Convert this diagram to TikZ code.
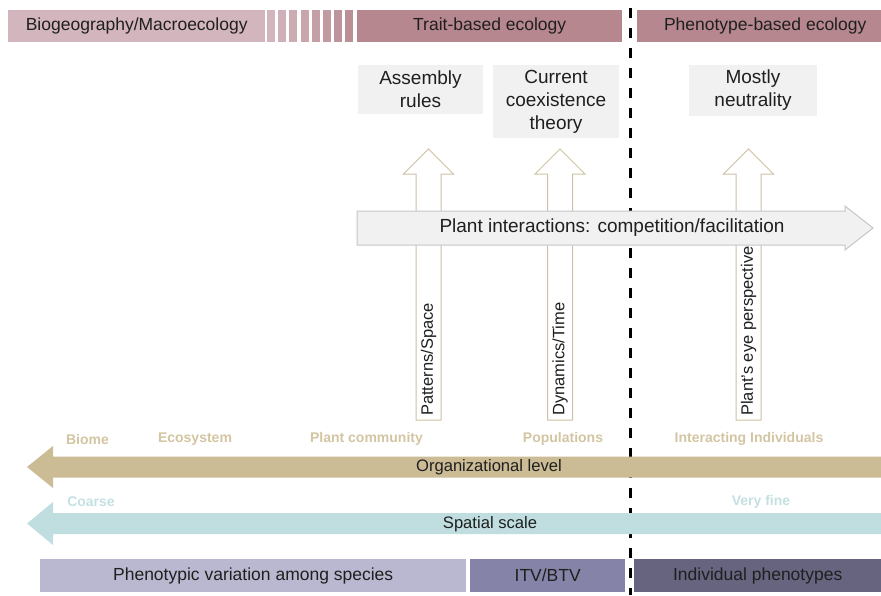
\documentclass[tikz,border=0pt]{standalone}
\usepackage{fontspec}
\setmainfont{Liberation Sans}

\definecolor{bioC}{HTML}{D3B6BD}
\definecolor{traitC}{HTML}{B6878F}
\definecolor{boxC}{HTML}{F1F1F1}
\definecolor{boxLine}{HTML}{C6C6C6}
\definecolor{upC}{HTML}{CFC2A2}
\definecolor{tanC}{HTML}{CBBC96}
\definecolor{tanL}{HTML}{D3C5A2}
\definecolor{tealC}{HTML}{C0DEDF}
\definecolor{tealL}{HTML}{C4E0E2}
\definecolor{phA}{HTML}{B9B8D0}
\definecolor{phB}{HTML}{8584A8}
\definecolor{phC}{HTML}{66647F}

\begin{document}
\begin{tikzpicture}[x=1pt,y=-1pt,
    every node/.style={font=\fontsize{17.5}{22.5}\selectfont, text=black!88},
    hdr/.style={minimum height=32, inner sep=0, anchor=west},
    gbox/.style={fill=boxC, align=center, inner sep=0, font=\fontsize{19}{23}\selectfont},
    rot/.style={rotate=90, anchor=west, inner sep=0, font=\fontsize{16.5}{18}\selectfont},
    lvl/.style={font=\fontsize{14}{16}\selectfont\bfseries},
    axlab/.style={font=\fontsize{16.6}{18}\selectfont},
    lowbar/.style={minimum height=33, inner sep=0, anchor=west}]
    \useasboundingbox (0,0) rectangle (881,595);

    % 分界虚线
    \coordinate (dtop) at (630,8);
    \coordinate (dbot) at (630,595);
    \draw[line width=3pt, dash pattern=on 10pt off 10pt] (dtop) -- (dbot);

    % 顶部标题条
    \node[hdr, fill=bioC, minimum width=257] (bio) at (8,26) {Biogeography/Macroecology};
    \foreach \i in {0,...,7} {
        \pgfmathtruncatemacro\p{100-12*\i}
        \fill[bioC!\p!traitC] (267+11.2*\i,10) rectangle ++(8,32);
    }
    \node[hdr, fill=traitC, minimum width=265] (trait) at (357,26) {Trait-based ecology};
    \node[hdr, fill=traitC, minimum width=256] (pheno) at (637,26) {Phenotype-based ecology};

    % 理论框
    \node[gbox, minimum width=125, minimum height=49] (assem) at (420.5,89.5) {Assembly\\rules};
    \node[gbox, minimum width=126, minimum height=73] (coex) at (556,101.5) {Current\\coexistence\\theory};
    \node[gbox, minimum width=128, minimum height=51] (neut) at (753,90.5) {Mostly\\neutrality};

    % 向上的箭头
    \foreach \cx/\nm/\txt in {428.5/pat/{Patterns/Space}, 560/dyn/{Dynamics/Time}, 748.5/eye/{Plant’s eye perspective}} {
        \draw[upC, fill=white, line width=1pt] (\cx-12.5,420) -- (\cx-12.5,174) -- (\cx-25,174)
            -- (\cx,149) -- (\cx+25,174) -- (\cx+12.5,174) -- (\cx+12.5,420) -- cycle;
        \node[rot] (\nm) at (\cx,416) {\txt};
    }

    % 植物相互作用
    \draw[draw=boxLine, fill=boxC, line width=1pt] (357,211) -- (845,211) -- (845,206) -- (873,228)
        -- (845,250) -- (845,245) -- (357,245) -- cycle;
    \node[font=\fontsize{19}{22}\selectfont] (inter) at (612,228) {Plant interactions: competition/facilitation};

    % 组织层次
    \node[lvl, text=tanL] (biome) at (87.5,439) {Biome};
    \node[lvl, text=tanL] (eco) at (195,439) {Ecosystem};
    \node[lvl, text=tanL] (comm) at (366.5,439) {Plant community};
    \node[lvl, text=tanL] (pop) at (563,439) {Populations};
    \node[lvl, text=tanL] (indi) at (749,439) {Interacting Individuals};
    \fill[tanC] (27,467) -- (53,446) -- (53,456.5) -- (881,456.5) -- (881,477.5) -- (53,477.5) -- (53,488) -- cycle;
    \node[axlab] (org) at (489,467) {Organizational level};

    % 空间尺度
    \node[lvl, text=tealL] (coarse) at (91,502) {Coarse};
    \node[lvl, text=tealL] (fine) at (761,502) {Very fine};
    \fill[tealC] (27,523.5) -- (53,502) -- (53,513) -- (881,513) -- (881,534) -- (53,534) -- (53,545) -- cycle;
    \node[axlab] (spat) at (490,524) {Spatial scale};

    % 表型变异
    \node[lowbar, fill=phA, minimum width=426] (among) at (40,575.5) {Phenotypic variation among species};
    \node[lowbar, fill=phB, minimum width=155] (itv) at (470,575.5) {ITV/BTV};
    \node[lowbar, fill=phC, minimum width=247] (indiv) at (634,575.5) {Individual phenotypes};
\end{tikzpicture}
\end{document}
